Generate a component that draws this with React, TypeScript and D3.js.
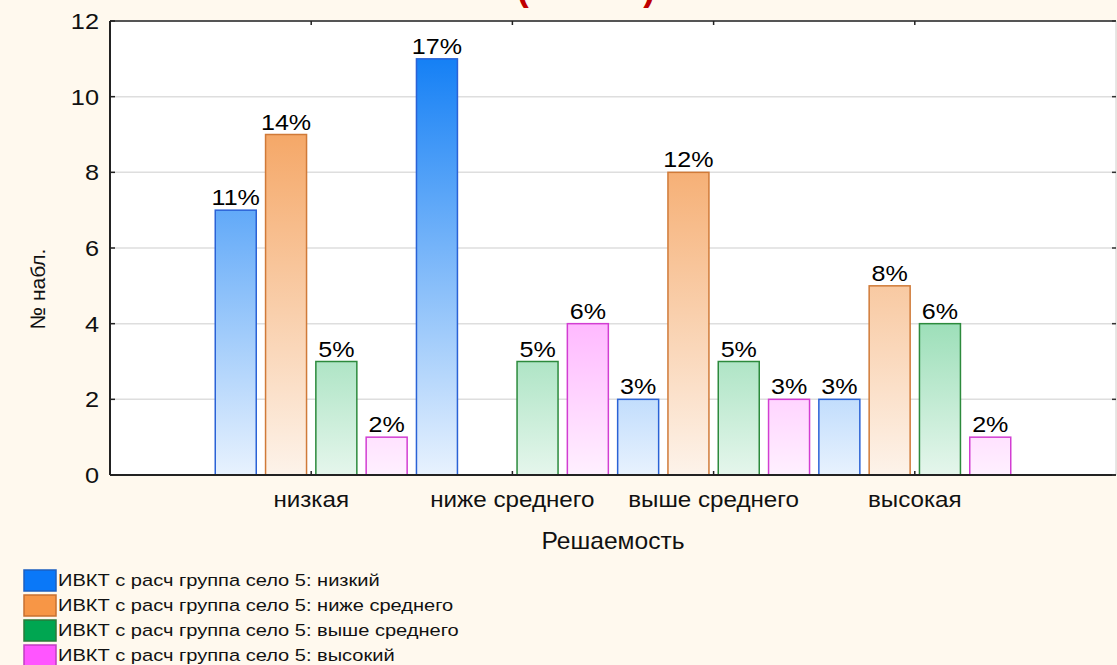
import React from 'react';
import * as d3 from 'd3';

// categories on the x axis
const categories = ['низкая', 'ниже среднего', 'выше среднего', 'высокая'];
// one series per legend entry, values = counts per category
const seriesNames = [
  'ИВКТ с расч группа село 5: низкий',
  'ИВКТ с расч группа село 5: ниже среднего',
  'ИВКТ с расч группа село 5: выше среднего',
  'ИВКТ с расч группа село 5: высокий',
];
const lowValues = [7, 11, 2, 2];
const belowAvgValues = [9, 0, 8, 5];
const aboveAvgValues = [3, 3, 3, 4];
const highValues = [1, 4, 2, 1];
const yTicks = [0, 2, 4, 6, 8, 10, 12];

const series = [lowValues, belowAvgValues, aboveAvgValues, highValues];
const total = d3.sum(series.flat());

const fills = ['#1580f5', '#f3974b', '#1fb760', '#ff59ff'];
const bottoms = ['#e8f2fe', '#fdf3ea', '#e5f6ec', '#fff0ff'];
const strokes = ['#2a62d6', '#d07a38', '#2c8a3c', '#d23ed2'];
const legendFills = ['#0a78f8', '#f79646', '#00a651', '#ff55ff'];
const legendStrokes = ['#1d5fc0', '#c87030', '#2a7a3a', '#c03ec0'];

const W = 1117, H = 665;
const left = 110, right = 1116, top = 21, bottom = 475;
const font = 'Liberation Sans, Arial, sans-serif';

// the reference text is a bit wider than Arial, so stretch it horizontally
const Txt = ({x, y, sx = 1.12, children, ...rest}: any) => (
  <text transform={`translate(${x},${y}) scale(${sx},1)`} fill="#111" {...rest}>{children}</text>
);

const App = () => {
  const x = d3.scaleLinear().domain([0, categories.length + 1]).range([left, right]);
  const y = d3.scaleLinear().domain([0, 12]).range([bottom, top]);
  const slot = (x(1) - x(0)) / 4;
  const barW = slot * 0.815;

  return (
    <svg width={W} height={H} style={{position: 'absolute', left: 0, top: 0}} fontFamily={font}>
      <defs>
        {fills.map((c, i) => (
          <linearGradient key={i} id={'g' + i} gradientUnits="userSpaceOnUse"
            x1={0} x2={0} y1={y(0)} y2={y(11)}>
            <stop offset="0" stopColor={bottoms[i]} />
            <stop offset="1" stopColor={c} />
          </linearGradient>
        ))}
      </defs>
      <rect width={W} height={H} fill="#fff9ee" />
      {/* title, cut off at the top like in the source picture */}
      <text x={586} y={0} textAnchor="middle" fill="#c00000" fontWeight="bold" fontSize={36}>(село 5)</text>
      <rect x={left} y={top} width={right - left} height={bottom - top} fill="#ffffff" />

      {/* grid */}
      {yTicks.filter(t => t > 0 && t < 12).map(t => (
        <line key={t} x1={left} x2={right} y1={y(t)} y2={y(t)} stroke="#dedede" strokeWidth={1.5} />
      ))}

      {/* bars */}
      {series.map((vals, s) => vals.map((v, i) => {
        if (!v) return null;
        const cx = x(i + 1) + (s - 1.5) * slot;
        return (
          <g key={s + '-' + i}>
            <rect x={cx - barW / 2} y={y(v)} width={barW} height={y(0) - y(v)}
              fill={`url(#g${s})`} stroke={strokes[s]} strokeWidth={1.5} />
            <Txt x={cx} y={y(v) - 5} sx={1.14} textAnchor="middle" fontSize={22} fill="#000">
              {Math.round(v / total * 100) + '%'}
            </Txt>
          </g>
        );
      }))}

      {/* frame */}
      <line x1={left} x2={right} y1={top} y2={top} stroke="#555" strokeWidth={2} />
      <line x1={right} x2={right} y1={top} y2={bottom} stroke="#cfcfcf" strokeWidth={1} />
      <line x1={left} x2={left} y1={top} y2={bottom} stroke="#222" strokeWidth={2} />
      <line x1={left} x2={right} y1={bottom} y2={bottom} stroke="#222" strokeWidth={2} />

      {/* y ticks */}
      {yTicks.map(t => (
        <g key={t}>
          <line x1={left} x2={left + 5} y1={y(t)} y2={y(t)} stroke="#222" strokeWidth={1.5} />
          <line x1={right - 4} x2={right} y1={y(t)} y2={y(t)} stroke="#333" strokeWidth={1.5} />
          <Txt x={99} y={y(t)} sx={1.15} dy="0.36em" textAnchor="end" fontSize={22}>{t}</Txt>
        </g>
      ))}

      {/* x ticks and labels */}
      {categories.map((c, i) => (
        <g key={c}>
          <line x1={x(i + 1)} x2={x(i + 1)} y1={bottom} y2={bottom - 4} stroke="#222" strokeWidth={1.5} />
          <line x1={x(i + 1)} x2={x(i + 1)} y1={top} y2={top + 4} stroke="#222" strokeWidth={1.5} />
          <Txt x={x(i + 1)} y={507} sx={1.1} textAnchor="middle" fontSize={22}>{c}</Txt>
        </g>
      ))}

      <Txt x={613} y={549} sx={1.07} textAnchor="middle" fontSize={23}>Решаемость</Txt>
      <text transform="translate(45,289) rotate(-90)" textAnchor="middle" fontSize={21} fill="#111">№ набл.</text>

      {/* legend */}
      {seriesNames.map((n, i) => (
        <g key={n} transform={`translate(0,${570 + i * 25})`}>
          <rect x={24} y={0} width={32} height={21} fill={legendFills[i]} stroke={legendStrokes[i]} strokeWidth={1.5} />
          <Txt x={58} y={16} sx={1.18} fontSize={17}>{n}</Txt>
        </g>
      ))}
    </svg>
  );
};

export default App;
